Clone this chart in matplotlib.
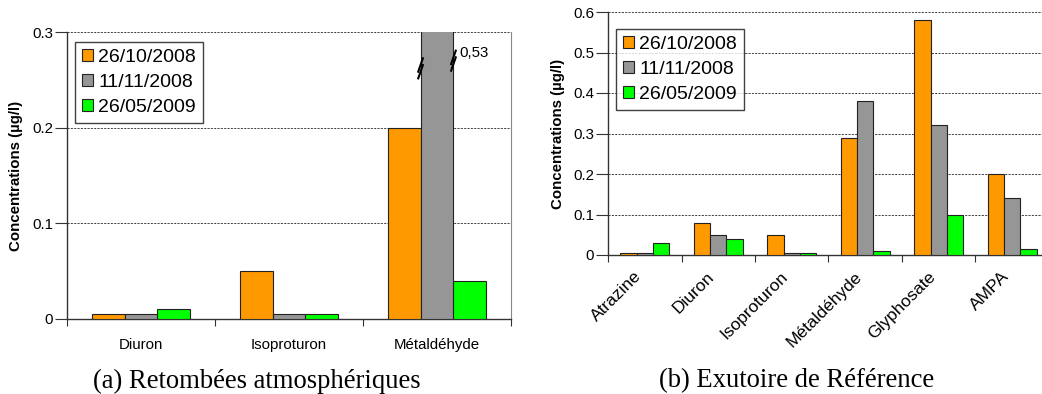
import matplotlib
matplotlib.use("Agg")
import matplotlib.pyplot as plt
import matplotlib.transforms as mtrans
import numpy as np

# ---- data ----
series_labels = ["26/10/2008", "11/11/2008", "26/05/2009"]
colors = ["#FF9900", "#969696", "#00FF00"]

cats_a = ["Diuron", "Isoproturon", "Métaldéhyde"]
a_2008_10 = [0.005, 0.05, 0.20]
a_2008_11 = [0.005, 0.005, 0.53]
a_2009_05 = [0.01, 0.005, 0.04]
a_yticks = [0, 0.1, 0.2, 0.3]
a_yticklabels = ["0", "0.1", "0.2", "0.3"]
break_label = "0,53"

cats_b = ["Atrazine", "Diuron", "Isoproturon", "Métaldéhyde", "Glyphosate", "AMPA"]
b_2008_10 = [0.005, 0.08, 0.05, 0.29, 0.58, 0.20]
b_2008_11 = [0.005, 0.05, 0.005, 0.38, 0.32, 0.14]
b_2009_05 = [0.03, 0.04, 0.005, 0.01, 0.10, 0.015]
b_yticks = [0, 0.1, 0.2, 0.3, 0.4, 0.5, 0.6]
b_yticklabels = ["0", "0.1", "0.2", "0.3", "0.4", "0.5", "0.6"]

ylabel = "Concentrations (µg/l)"
caption_a = "(a) Retombées atmosphériques"
caption_b = "(b) Exutoire de Référence"

W, H = 1042, 394
fig = plt.figure(figsize=(W / 100, H / 100), dpi=100)
plt.rcParams['font.family'] = ['Liberation Sans', 'DejaVu Sans']

def px_axes(l, r, t, b):
    return fig.add_axes([l / W, 1 - b / H, (r - l) / W, (b - t) / H])

bw = 1 / 4.5

def draw(ax, cats, vals, yticks, yticklabels, ymax, rotate):
    x = np.arange(len(cats))
    for i, (v, c, lab) in enumerate(zip(vals, colors, series_labels)):
        ax.bar(x + (i - 1) * bw, v, width=bw, color=c, edgecolor="#222222",
               linewidth=0.8, label=lab, zorder=3)
    ax.set_xlim(-0.5, len(cats) - 0.5)
    ax.set_ylim(0, ymax)
    ax.set_yticks(yticks)
    ax.set_yticklabels(yticklabels, fontsize=10.8)
    for yv in yticks[1:]:
        ax.axhline(yv, color="#222222", lw=0.6, ls=(0, (2.5, 1.5)), zorder=1)
    ax.set_xticks(np.arange(len(cats) + 1) - 0.5, minor=False)
    ax.set_xticklabels([])
    ax.set_xticks(x, minor=True)
    ax.tick_params(axis="x", which="major", length=5, width=0.8, direction="out", color="#333333")
    ax.tick_params(axis="x", which="minor", length=0)
    ax.tick_params(axis="y", length=9, width=0.8, pad=1, color="#333333")
    if rotate:
        ax.set_xticklabels(cats, minor=True, fontsize=12.5, rotation=45,
                           ha="right", va="center", rotation_mode="anchor")
        ax.tick_params(axis="x", which="minor", pad=0)
        off = mtrans.ScaledTranslation(-6 / 100, -19 / 100, fig.dpi_scale_trans)
        for lbl in ax.get_xticklabels(minor=True):
            lbl.set_transform(lbl.get_transform() + off)
    else:
        ax.set_xticklabels(cats, minor=True, fontsize=10.8)
        ax.tick_params(axis="x", which="minor", pad=14)
    ax.spines["top"].set_visible(False)
    for s in ["left", "bottom"]:
        ax.spines[s].set_color("#333333")
        ax.spines[s].set_linewidth(1.0)
    ax.spines["right"].set_color("#888888")
    ax.spines["right"].set_linewidth(0.8)
    ax.set_ylabel(ylabel, fontsize=10.8, fontweight="bold")
    return x

def add_legend(ax, l_px, t_px, ax_l, ax_b, ax_w, ax_h):
    leg = ax.legend(loc="upper left",
                    bbox_to_anchor=((l_px - ax_l) / ax_w, (ax_b - t_px) / ax_h),
                    fontsize=14, frameon=True, fancybox=False, handlelength=0.55,
                    handleheight=0.55, handletextpad=0.3, labelspacing=0.42,
                    borderpad=0.35, borderaxespad=0)
    leg.get_frame().set_edgecolor("#111111")
    leg.get_frame().set_linewidth(1.0)
    return leg

# ---- chart (a) ----
axa = px_axes(67, 511, 32, 319)
xa = draw(axa, cats_a, [a_2008_10, a_2008_11, a_2009_05], a_yticks, a_yticklabels, 0.3, False)
axa.yaxis.set_label_coords(-44 / 444, 0.5)
add_legend(axa, 75, 42, 67, 319, 444, 287)

# break marks on the gray bar of Métaldéhyde
bi = cats_a.index("Métaldéhyde")
gx = xa[bi]
for dx, yb in [(-bw / 2, 0.262), (bw / 2, 0.27)]:
    for off in (-0.0035, 0.0035):
        axa.plot([gx + dx - 0.018, gx + dx + 0.018], [yb - 0.008 + off, yb + 0.008 + off],
                 color="black", lw=1.5, zorder=5, clip_on=False, solid_capstyle="butt")
axa.text(gx + bw / 2 + 0.04, 0.278, break_label, fontsize=10.8, va="center", ha="left")

# ---- chart (b) ----
axb = px_axes(608, 1049, 12, 255)
xb = draw(axb, cats_b, [b_2008_10, b_2008_11, b_2009_05], b_yticks, b_yticklabels, 0.6, True)
axb.yaxis.set_label_coords(-43 / 441, 0.5)
add_legend(axb, 616, 29, 608, 255, 441, 243)

# ---- captions (fitted to the reference width) ----
capfont = ['Liberation Serif', 'DejaVu Serif']
renderer = fig.canvas.get_renderer()
for txt, cx, target in [(caption_a, 257, 329), (caption_b, 797, 277)]:
    t = fig.text(cx / W, 1 - 381 / H, txt, fontsize=18, ha="center", va="center", family=capfont)
    w = t.get_window_extent(renderer).width
    t.set_fontsize(18 * target / w)

fig.savefig("out.png", dpi=100)
